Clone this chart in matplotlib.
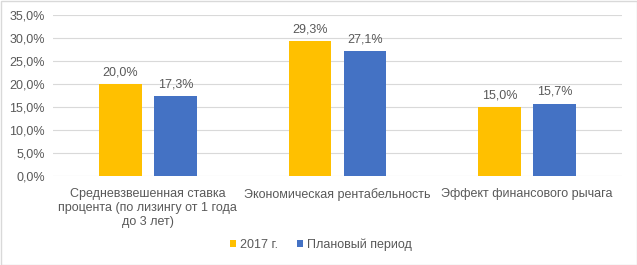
import matplotlib
matplotlib.use("Agg")
import matplotlib.pyplot as plt
import numpy as np
from matplotlib.patches import Rectangle

categories = ["Средневзвешенная ставка\nпроцента (по лизингу от 1 года\nдо 3 лет)",
              "Экономическая рентабельность",
              "Эффект финансового рычага"]
series_names = ["2017 г.", "Плановый период"]
values_2017 = [20.0, 29.3, 15.0]
values_plan = [17.3, 27.1, 15.7]
colors = ["#FFC000", "#4472C4"]

plt.rcParams['font.family'] = ['Liberation Sans', 'DejaVu Sans']
txt = "#595959"

fig = plt.figure(figsize=(6.37, 2.65), dpi=100)
ax = fig.add_axes([53/637, 1-176/265, (622-53)/637, (176-15)/265])

x = np.arange(len(categories))
w = 0.226
off = 0.145
b1 = ax.bar(x - off, values_2017, w, color=colors[0], label=series_names[0], zorder=3)
b2 = ax.bar(x + off, values_plan, w, color=colors[1], label=series_names[1], zorder=3)

def fmt(v):
    return f"{v:.1f}%".replace(".", ",")

for bars, vals in ((b1, values_2017), (b2, values_plan)):
    for r, v in zip(bars, vals):
        ax.text(r.get_x() + r.get_width()/2, v + 1.3, fmt(v), ha="center", va="bottom",
                fontsize=9, color=txt)

ax.set_xlim(-0.5, 2.5)
ax.set_ylim(0, 35)
ax.set_yticks(np.arange(0, 36, 5))
ax.set_yticklabels([fmt(v) for v in np.arange(0, 36, 5)], fontsize=9, color=txt)
ax.set_xticks(x)
ax.set_xticklabels(categories, fontsize=9, color=txt, linespacing=1.2)
ax.tick_params(length=0, pad=6)
ax.tick_params(axis="x", pad=9)
ax.grid(axis="y", color="#D9D9D9", linewidth=0.8, zorder=0)
for s in ax.spines.values():
    s.set_visible(False)

leg = fig.legend(loc="center", bbox_to_anchor=(321/637, 1-245/265), ncol=2, frameon=False,
                 fontsize=9, handlelength=0.5, handleheight=0.5, handletextpad=0.3,
                 columnspacing=1.5, labelcolor=txt)

fig.patches.append(Rectangle((0.5/637, 0.5/265), 1-1/637, 1-1/265, transform=fig.transFigure,
                             fill=False, edgecolor="#D9D9D9", linewidth=1.0))
fig.savefig("out.png", dpi=100, facecolor="white")
